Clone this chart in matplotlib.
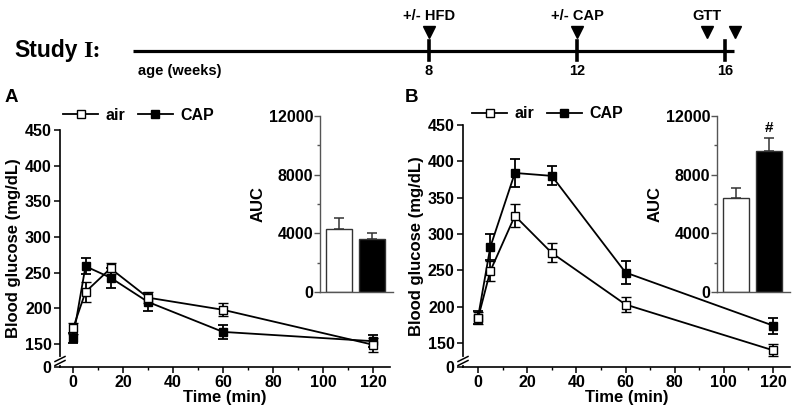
import matplotlib
matplotlib.use("Agg")
import matplotlib.pyplot as plt
from matplotlib.lines import Line2D
from matplotlib.ticker import MultipleLocator, FixedLocator
import numpy as np

plt.rcParams['font.family'] = ['Liberation Sans', 'DejaVu Sans']
plt.rcParams['font.weight'] = 'bold'
plt.rcParams['axes.labelweight'] = 'bold'

# ---- data ----
time_min = [0, 5, 15, 30, 60, 120]

# panel A
a_air = [172, 223, 256, 215, 198, 149]
a_air_err = [8, 14, 8, 8, 9, 10]
a_cap = [158, 259, 243, 209, 167, 154]
a_cap_err = [7, 11, 14, 13, 10, 8]
a_auc = [4300, 3620]
a_auc_err = [740, 400]

# panel B
b_air = [184, 249, 325, 274, 203, 140]
b_air_err = [8, 14, 16, 13, 11, 8]
b_cap = [185, 282, 384, 380, 247, 174]
b_cap_err = [9, 18, 19, 13, 16, 11]
b_auc = [6400, 9620]
b_auc_err = [700, 900]

groups = ['air', 'CAP']

# timeline (weeks)
tl_ticks = [8, 12, 16]
tl_events = ['+/- HFD', '+/- CAP', 'GTT']
tl_event_weeks = [8, 12, 15.5]
tl_extra_arrow = 16.27
tl_end = 16.24

W, H = 800, 411
fig = plt.figure(figsize=(W / 100, H / 100), dpi=100)


def px_axes(x0, y0, x1, y1):
    return fig.add_axes([x0 / W, 1 - y1 / H, (x1 - x0) / W, (y1 - y0) / H])


# ---- timeline ----
ax_t = px_axes(0, 0, W, 90)
ax_t.set_xlim(-133 / 37, (W - 133) / 37)
ax_t.set_ylim(90, 0)
ax_t.axis('off')
ax_t.plot([0, tl_end], [51, 51], color='k', lw=2.3, solid_capstyle='butt')
for w in tl_ticks:
    ax_t.plot([w, w], [41, 60], color='k', lw=2.6)
    ax_t.text(w, 71, str(w), ha='center', va='center', fontsize=10.5)
for w, lab in zip(tl_event_weeks, tl_events):
    ax_t.plot(w, 32, marker='v', color='k', ms=8)
    ax_t.text(w, 16, lab, ha='center', va='center', fontsize=10.5)
ax_t.plot(tl_extra_arrow, 32, marker='v', color='k', ms=8)
ax_t.text(138 / W, 1 - 71 / 90, 'age (weeks)', transform=ax_t.transAxes,
          ha='left', va='center', fontsize=10.5)
ax_t.text(14 / W, 1 - 57 / 90, 'Study', transform=ax_t.transAxes,
          ha='left', va='baseline', fontsize=16.5)
ax_t.text(101 / W, 1 - 57 / 90, 'I:', transform=ax_t.transAxes,
          ha='right', va='baseline', fontsize=17.5, family='Liberation Serif')


def main_panel(box, xlim, ylim, air, air_err, cap, cap_err, leg_xy):
    ax = px_axes(*box)
    ax.errorbar(time_min, cap, yerr=cap_err, fmt='-s', color='k', mfc='k',
                mec='k', ms=6, lw=1.3, elinewidth=1.3, capsize=3.5,
                capthick=1.3, clip_on=False, zorder=3)
    ax.errorbar(time_min, air, yerr=air_err, fmt='-s', color='k', mfc='white',
                mec='k', ms=6, mew=1.0, lw=1.3, elinewidth=1.3, capsize=3.5,
                capthick=1.3, clip_on=False, zorder=4)
    ax.set_xlim(*xlim)
    ax.set_ylim(*ylim)
    ax.spines['top'].set_visible(False)
    ax.spines['right'].set_visible(False)
    for s in ['left', 'bottom']:
        ax.spines[s].set_linewidth(1.2)
    ax.set_xticks([0, 20, 40, 60, 80, 100, 120])
    ax.xaxis.set_minor_locator(MultipleLocator(10))
    ax.set_yticks([ylim[0], 150, 200, 250, 300, 350, 400, 450])
    ax.set_yticklabels(['0', '150', '200', '250', '300', '350', '400', '450'])
    ax.tick_params(axis='both', which='major', direction='out', length=4,
                   width=1.1, labelsize=11.5, pad=2)
    ax.tick_params(axis='x', which='minor', direction='out', length=2.5, width=1)
    ax.set_xlabel('Time (min)', fontsize=12, labelpad=0)
    ax.set_ylabel('Blood glucose (mg/dL)', fontsize=12, labelpad=3)

    # axis break on the y axis
    hpx = box[3] - box[1]
    wpx = box[2] - box[0]
    b1 = 1 - (box[3] - 8 - box[1]) / hpx
    b2 = 1 - (box[3] - 4 - box[1]) / hpx
    ax.plot([0, 0], [b2 + 0.4 / hpx, b1 - 0.4 / hpx], color='white', lw=3,
            transform=ax.transAxes, clip_on=False, zorder=5)
    for b in (b1, b2):
        ax.plot([-5 / wpx, 5 / wpx], [b - 2.5 / hpx, b + 2.5 / hpx], color='k',
                lw=1.1, transform=ax.transAxes, clip_on=False, zorder=6)

    handles = [Line2D([], [], color='k', marker='s', mfc='white', mec='k',
                      ms=6, lw=1.3),
               Line2D([], [], color='k', marker='s', mfc='k', mec='k',
                      ms=6, lw=1.3)]
    ax.legend(handles, groups, ncol=2, frameon=False, loc='center left',
              bbox_to_anchor=(leg_xy[0] / W, 1 - leg_xy[1] / H),
              bbox_transform=fig.transFigure, fontsize=11.5, handlelength=2.2,
              handletextpad=0.45, columnspacing=0.8, borderpad=0,
              borderaxespad=0)
    return ax


def inset_panel(box, vals, errs, mark=None):
    ax = px_axes(*box)
    ax.patch.set_alpha(0)
    x = np.arange(len(vals))
    ax.bar(x, vals, width=0.79, color=['white', 'black'], edgecolor='#333333',
           linewidth=1, zorder=2)
    ax.errorbar(x, vals, yerr=[[0] * len(errs), errs], fmt='none',
                ecolor='#333333', elinewidth=1.1, capsize=3.5, capthick=1.1,
                zorder=1)
    ax.set_xlim(-0.576, 1.636)
    ax.set_ylim(0, 12000)
    ax.spines['top'].set_visible(False)
    ax.spines['right'].set_visible(False)
    for s in ['left', 'bottom']:
        ax.spines[s].set_color('#555555')
        ax.spines[s].set_linewidth(1)
    ax.set_xticks([])
    ax.yaxis.set_major_locator(FixedLocator([0, 4000, 8000, 12000]))
    ax.yaxis.set_minor_locator(FixedLocator([2000, 6000, 10000]))
    ax.tick_params(axis='y', which='major', length=4, width=1,
                   color='#555555', labelsize=11.5, pad=1)
    ax.tick_params(axis='y', which='minor', length=2.5, width=1,
                   color='#555555')
    ax.set_ylabel('AUC', fontsize=12, labelpad=2)
    if mark:
        ax.annotate(mark, (x[1], vals[1] + errs[1]), xytext=(0, 2),
                    textcoords='offset points', ha='center', va='bottom',
                    fontsize=11)
    return ax


main_panel((60, 130, 390, 367), (-5.2, 126.8), (117.8, 450),
           a_air, a_air_err, a_cap, a_cap_err, (63, 115))
inset_panel((320, 116, 393, 292), a_auc, a_auc_err)

main_panel((463, 125, 790, 367), (-6.1, 126.9), (117.0, 450),
           b_air, b_air_err, b_cap, b_cap_err, (472, 114))
inset_panel((717, 116, 790, 292), b_auc, b_auc_err, mark='#')

fig.text(5 / W, 1 - 97 / H, 'A', fontsize=13.5, ha='left', va='center')
fig.text(405 / W, 1 - 97 / H, 'B', fontsize=13.5, ha='left', va='center')

fig.savefig('out.png', dpi=100, facecolor='white')
